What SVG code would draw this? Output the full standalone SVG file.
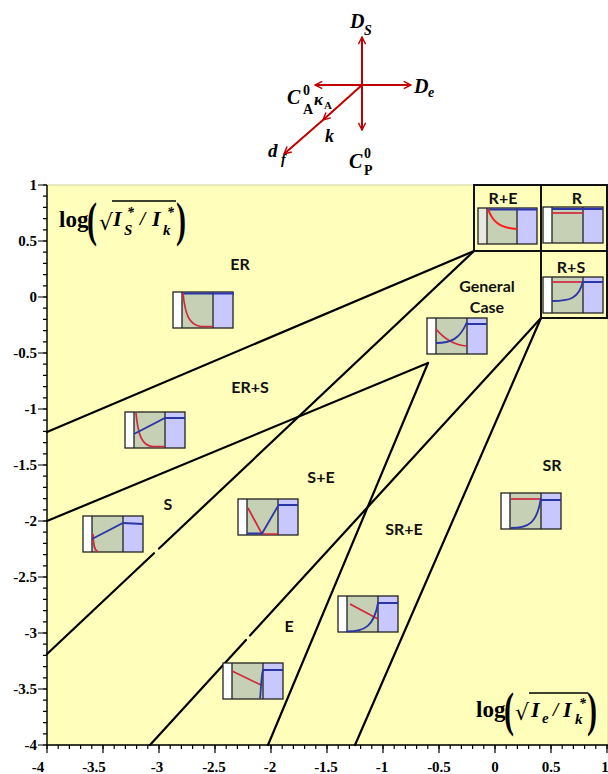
<svg xmlns="http://www.w3.org/2000/svg" xmlns:xlink="http://www.w3.org/1999/xlink" width="608" height="774" viewBox="0 0 608 774">
<style>
.bg{fill:#ffffbb;stroke:#c8c890;stroke-width:0.8}
.ax{stroke:#000;stroke-width:1.4;fill:none}
.bd{stroke:#000;stroke-width:2.2;fill:none;stroke-linecap:round}
.box{fill:none;stroke:#111;stroke-width:2}
.tick{font-family:"Liberation Serif",serif;font-weight:bold;font-size:15px;fill:#000}
.rl{font-family:Lato,"Liberation Sans",sans-serif;font-weight:bold;font-size:16px;fill:#111;text-anchor:middle}
.m{font-family:"Liberation Serif",serif;font-weight:bold;font-style:italic;fill:#000}
.mu{font-family:"Liberation Serif",serif;font-weight:bold;fill:#000}
.ar{stroke:#c00000;stroke-width:2;fill:none}
.rc{stroke:#d0283c;stroke-width:1.7;fill:none}
.bc{stroke:#2a36a6;stroke-width:1.8;fill:none}
.fw{fill:#ffffff}.fg{fill:#c5d0b5}.fb{fill:#c8c8ff}
.fs{fill:none;stroke:#222;stroke-width:1.3}
</style>
<defs>
<marker id="ah" viewBox="0 0 10 10" refX="9" refY="5" markerWidth="9" markerHeight="9" markerUnits="userSpaceOnUse" orient="auto">
<path d="M1,1 L9,5 L1,9" fill="none" stroke="#c00000" stroke-width="1.6"/>
</marker>
<g id="fr">
<rect class="fw" x="0" y="0" width="9" height="36"/>
<rect class="fg" x="9" y="0" width="31" height="36"/>
<rect class="fb" x="40" y="0" width="20" height="36"/>
<rect class="fs" x="0" y="0" width="60" height="36"/>
<path class="fs" d="M9,0 V36 M40,0 V36"/>
</g>
</defs>

<!-- plot background -->
<rect class="bg" x="47" y="185" width="561" height="560"/>

<!-- axes -->
<g id="axes">
<path class="ax" d="M47,185 V745 H608"/>
<line x1="45" y1="184.4" x2="45" y2="746" stroke="#000" stroke-width="4" stroke-dasharray="1.2 10"/>
<line x1="42.5" y1="184.4" x2="42.5" y2="746" stroke="#000" stroke-width="9" stroke-dasharray="1.2 54.8"/>
<line x1="46.4" y1="747" x2="608" y2="747" stroke="#000" stroke-width="4" stroke-dasharray="1.2 10"/>
<line x1="46.4" y1="749" x2="608" y2="749" stroke="#000" stroke-width="8" stroke-dasharray="1.2 54.8"/>
<g class="tick" text-anchor="end">
<text x="37" y="190">1</text>
<text x="37" y="246">0.5</text>
<text x="37" y="302">0</text>
<text x="37" y="358">-0.5</text>
<text x="37" y="414">-1</text>
<text x="37" y="470">-1.5</text>
<text x="37" y="526">-2</text>
<text x="37" y="582">-2.5</text>
<text x="37" y="638">-3</text>
<text x="37" y="694">-3.5</text>
<text x="37" y="750">-4</text>
</g>
<g class="tick" text-anchor="middle">
<text x="38" y="772">-4</text>
<text x="94" y="772">-3.5</text>
<text x="157" y="772">-3</text>
<text x="214" y="772">-2.5</text>
<text x="270" y="772">-2</text>
<text x="326" y="772">-1.5</text>
<text x="382" y="772">-1</text>
<text x="439" y="772">-0.5</text>
<text x="495" y="772">0</text>
<text x="551" y="772">0.5</text>
<text x="605" y="772">1</text>
</g>
</g>

<!-- axis titles -->
<g id="ylabel">
<text class="mu" x="59" y="227" font-size="23">log</text>
<text class="mu" font-weight="normal" font-size="30" transform="translate(87,236) scale(1,1.65)">(</text>
<text x="99" y="230" font-family="'DejaVu Serif',serif" font-size="22">√</text>
<line x1="112" y1="201" x2="176" y2="201" stroke="#000" stroke-width="1.3"/>
<text class="m" x="113" y="226" font-size="22">I</text>
<text class="m" x="127" y="217" font-size="14">*</text>
<text class="m" x="124" y="235" font-size="15">S</text>
<text class="m" x="140" y="225" font-size="19">/</text>
<text class="m" x="152" y="226" font-size="22">I</text>
<text class="m" x="167" y="217" font-size="14">*</text>
<text class="m" x="163" y="235" font-size="15">k</text>
<text class="mu" font-weight="normal" font-size="30" transform="translate(176,236) scale(1,1.65)">)</text>
</g>
<g id="xlabel">
<text class="mu" x="476" y="717" font-size="23">log</text>
<text class="mu" font-weight="normal" font-size="30" transform="translate(504,726) scale(1,1.65)">(</text>
<text x="515" y="720" font-family="'DejaVu Serif',serif" font-size="22">√</text>
<line x1="529" y1="693" x2="588" y2="693" stroke="#000" stroke-width="1.3"/>
<text class="m" x="531" y="717" font-size="22">I</text>
<text class="m" x="542" y="723" font-size="15">e</text>
<text class="m" x="553" y="716" font-size="19">/</text>
<text class="m" x="563" y="717" font-size="22">I</text>
<text class="m" x="579" y="708" font-size="14">*</text>
<text class="m" x="575" y="724" font-size="15">k</text>
<text class="mu" font-weight="normal" font-size="30" transform="translate(587,726) scale(1,1.65)">)</text>
</g>

<!-- compass -->
<g id="compass">
<line class="ar" x1="362" y1="85" x2="362" y2="37" marker-end="url(#ah)"/>
<line class="ar" x1="362" y1="85" x2="411" y2="85" marker-end="url(#ah)"/>
<line class="ar" x1="362" y1="85" x2="315" y2="85" marker-end="url(#ah)"/>
<line class="ar" x1="362" y1="85" x2="362" y2="130" marker-end="url(#ah)"/>
<line class="ar" x1="362" y1="85" x2="323" y2="120" marker-end="url(#ah)"/>
<line class="ar" x1="323" y1="120" x2="284" y2="154" marker-end="url(#ah)"/>
<text class="m" x="350" y="28" font-size="20">D</text>
<text class="m" x="364" y="35" font-size="14">S</text>
<text class="m" x="414" y="93" font-size="20">D</text>
<text class="m" x="428" y="97" font-size="14">e</text>
<text class="m" x="287" y="104" font-size="20">C</text>
<text class="mu" x="303" y="95" font-size="14">0</text>
<text class="mu" x="303" y="114" font-size="14">A</text>
<text class="m" x="314" y="105" font-size="17">κ</text>
<text class="mu" x="324" y="109" font-size="11">A</text>
<text class="m" x="325" y="142" font-size="18">k</text>
<text class="m" x="268" y="157" font-size="19">d</text>
<text class="m" x="281" y="164" font-size="14">f</text>
<text class="m" x="349" y="168" font-size="20">C</text>
<text class="mu" x="364" y="158" font-size="14">0</text>
<text class="mu" x="364" y="175" font-size="14">P</text>
</g>

<!-- boundaries -->
<g id="connectors">
<path class="bd" d="M47,432 L474,251"/>
<path class="bd" d="M47,521 L428,363"/>
<path class="bd" d="M47,654 L154,553.2 M159,548.5 L474,251"/>
<path class="bd" d="M428,363 L268,745"/>
<path class="bd" d="M541,318 L250,635.5 M246,640 L150,745"/>
<path class="bd" d="M541,318 L355,745"/>
</g>

<!-- top-right boxes -->
<g id="region-RE">
<rect class="box" x="474" y="185" width="67" height="66"/>
<text class="rl" x="503" y="204">R+E</text>
<g transform="translate(478,208)">
<rect x="0" y="0" width="9" height="36" fill="#e8e8e0"/>
<rect class="fg" x="9" y="0" width="30" height="36"/>
<rect class="fb" x="39" y="0" width="20" height="36"/>
<rect class="fs" x="0" y="0" width="59" height="36"/>
<path class="fs" d="M9,0 V36 M39,0 V36"/>
<path class="bc" d="M9,1.5 H59"/>
<path d="M10,1 C14,12 20,20 39,21" stroke="#ff1a1a" stroke-width="2" fill="none"/>
</g>
</g>
<g id="region-R">
<rect class="box" x="541" y="185" width="66" height="66"/>
<text class="rl" x="577" y="204">R</text>
<g transform="translate(543,207)">
<use href="#fr"/>
<path class="rc" d="M9,6 H40"/>
<path class="bc" d="M9,2 H60"/>
</g>
</g>
<g id="region-RS">
<rect class="box" x="541" y="251" width="66" height="67"/>
<text class="rl" x="571" y="273">R+S</text>
<g transform="translate(543,277)">
<use href="#fr"/>
<path class="rc" d="M9,5 H40"/>
<path class="bc" d="M9,24 C26,24 36,22 40,4 M40,5 H60"/>
</g>
</g>

<!-- regions -->
<g id="region-ER">
<text class="rl" x="240" y="270">ER</text>
<g transform="translate(173,292)">
<use href="#fr"/>
<path class="bc" d="M9,1.5 H61"/>
<path class="rc" d="M10,1 C12,22 16,33 28,34.5 H40"/>
</g>
</g>
<g id="region-GC">
<text class="rl" x="487" y="292" font-size="17">General</text>
<text class="rl" x="487" y="313" font-size="17">Case</text>
<g transform="translate(427,318)">
<use href="#fr"/>
<path class="rc" d="M9,11 C18,22 27,27 40,28"/>
<path class="bc" d="M9,25 C24,25 33,21 40,4 M40,6 H60"/>
</g>
</g>
<g id="region-ERS">
<text class="rl" x="250" y="393">ER+S</text>
<g transform="translate(125,412)">
<use href="#fr"/>
<path class="rc" d="M11,1 C13,23 17,34 28,34.5 H40"/>
<path class="bc" d="M9,22 L40,6 H60"/>
</g>
</g>
<g id="region-S">
<text class="rl" x="168" y="510">S</text>
<g transform="translate(83,516)">
<use href="#fr"/>
<path class="rc" d="M10,18 C10.5,30 11.5,35 15,35.5"/>
<path class="bc" d="M9,23 L40,7 L60,8"/>
</g>
</g>
<g id="region-SE">
<text class="rl" x="321" y="483">S+E</text>
<g transform="translate(238,499)">
<use href="#fr"/>
<path class="rc" d="M10,9 L24,35 H40"/>
<path class="bc" d="M9,34.5 H24 L40,7 M40,6 H60"/>
</g>
</g>
<g id="region-SRE">
<text class="rl" x="404" y="535">SR+E</text>
<g transform="translate(338,596)">
<use href="#fr"/>
<path class="rc" d="M12,8 L40,23"/>
<path class="bc" d="M9,35.5 C27,35.5 36,30 40,7 H60"/>
</g>
</g>
<g id="region-E">
<text class="rl" x="289" y="632">E</text>
<g transform="translate(223,663)">
<use href="#fr"/>
<path class="rc" d="M9,8 L38,22"/>
<path class="bc" d="M37,35.5 C38,28 38,14 40,7 H60"/>
</g>
</g>
<g id="region-SR">
<text class="rl" x="552" y="471">SR</text>
<g transform="translate(501,493)">
<use href="#fr"/>
<path class="rc" d="M10,6 H40"/>
<path class="bc" d="M10,35 C28,35 36,30 40,5 M40,7 H60"/>
</g>
</g>
</svg>
